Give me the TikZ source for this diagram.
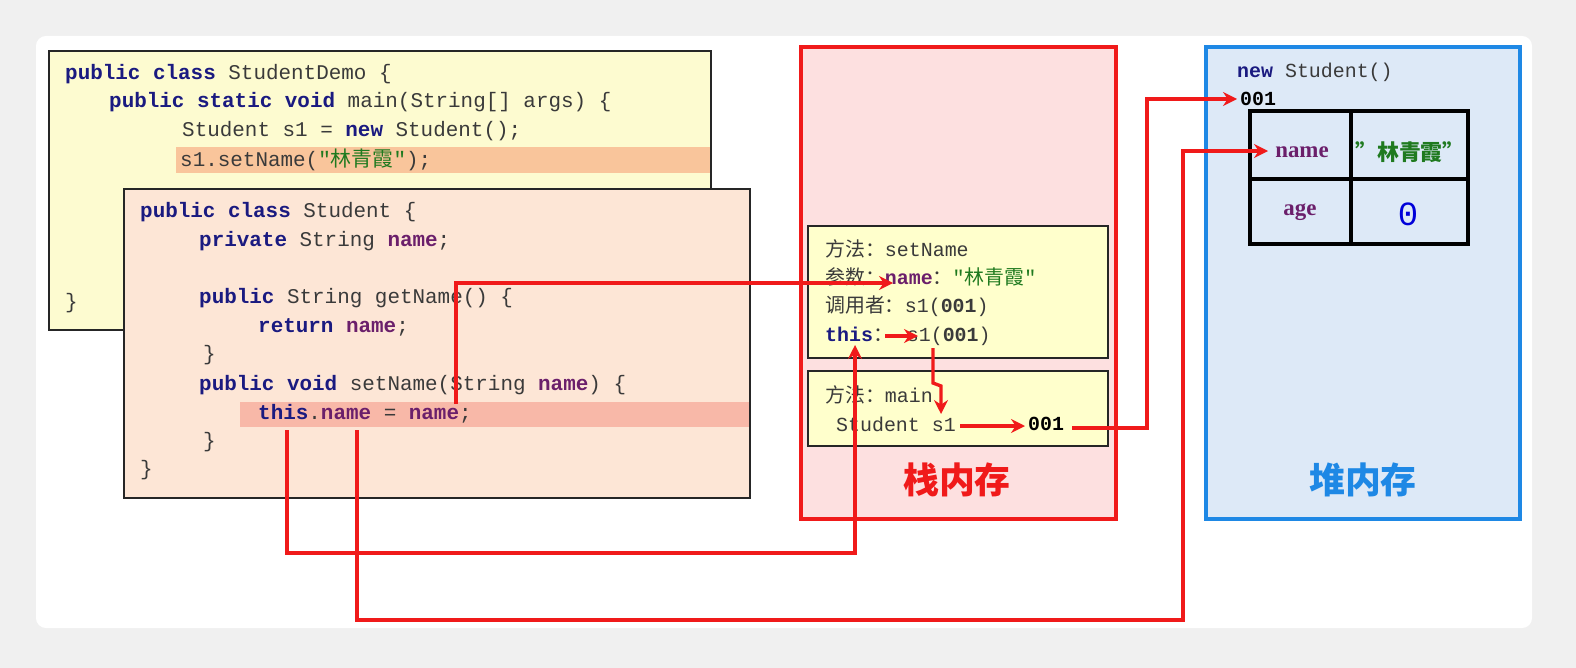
\documentclass[tikz,border=0pt]{standalone}
\usepackage{fontspec}
\setmonofont{Liberation Mono}
\newfontfamily\cjk{Noto Sans CJK SC}
\newfontfamily\lser{Liberation Serif}
\usetikzlibrary{arrows.meta}
\definecolor{kwc}{HTML}{1A1A80}
\definecolor{nmc}{HTML}{6B1F6B}
\definecolor{stc}{HTML}{1F7A1F}
\definecolor{txc}{HTML}{3A3A3A}
\definecolor{arr}{HTML}{F01A1A}
\definecolor{ylw}{RGB}{253,251,208}
\definecolor{hl1}{RGB}{249,197,155}
\definecolor{peach}{RGB}{253,230,214}
\definecolor{hl2}{RGB}{248,184,168}
\definecolor{stkbg}{RGB}{253,224,224}
\definecolor{frm}{RGB}{255,255,204}
\definecolor{hblue}{RGB}{30,136,229}
\definecolor{hbg}{RGB}{221,233,247}
\newcommand{\kw}[1]{\textbf{\color{kwc}#1}}
\newcommand{\nm}[1]{\textbf{\color{nmc}#1}}
\newcommand{\st}[1]{{\color{stc}#1}}
\begin{document}
\begin{tikzpicture}[x=1bp,y=-1bp,
 code/.style={anchor=west,inner sep=0,font=\ttfamily\fontsize{21}{21}\selectfont,text=txc},
 stk/.style={anchor=west,inner sep=0,font=\ttfamily\fontsize{20}{20}\selectfont,text=txc},
 ra/.style={draw=arr,line width=3.4pt,-{Stealth[length=14pt,width=14pt]}},
 frame/.style={draw=black!85,line width=2.4pt}]
\useasboundingbox (0,0) rectangle (1576,668);
\fill[gray!12] (0,0) rectangle (1576,668);
\fill[white,rounded corners=10pt] (36,36) rectangle (1532,628);
% demo box
\draw[frame,fill=ylw] (49,51) rectangle (711,330);
\fill[hl1] (176,147) rectangle (710,173);
\node[code] (d1) at (65,74) {\kw{public class} StudentDemo \{};
\node[code] (d2) at (109,102) {\kw{public static void} main(String[] args) \{};
\node[code] (d3) at (182,131) {Student s1 = \kw{new} Student();};
\node[code] (d4) at (180,160) {s1.setName(\st{"{\cjk 林青霞}"});};
\node[code] (d5) at (65,303) {\}};
% student box
\draw[frame,fill=peach] (124,189) rectangle (750,498);
\fill[hl2] (240,402) rectangle (749,427);
\node[code] (s1) at (140,212) {\kw{public class} Student \{};
\node[code] (s2) at (199,241) {\kw{private} String \nm{name};};
\node[code] (s3) at (199,298) {\kw{public} String getName() \{};
\node[code] (s4) at (258,327) {\kw{return} \nm{name};};
\node[code] (s5) at (203,355) {\}};
\node[code] (s6) at (199,385) {\kw{public void} setName(String \nm{name}) \{};
\node[code] (s7) at (258,414) {\kw{this}.\nm{name} = \nm{name};};
\node[code] (s8) at (203,442) {\}};
\node[code] (s9) at (140,470) {\}};
% stack
\draw[draw=arr,line width=4.5pt,fill=stkbg] (801,47) rectangle (1116,519);
\draw[frame,fill=frm] (808,226) rectangle (1108,358);
\draw[frame,fill=frm] (808,371) rectangle (1108,446);
\node[stk] (m1) at (825,249) {{\cjk 方法：}setName};
\node[stk] (m2) at (825,277) {{\cjk 参数：}\nm{name}{\cjk ：}\st{"{\cjk 林青霞}"}};
\node[stk] (m3) at (825,306) {{\cjk 调用者：}s1(\textbf{001})};
\node[stk] (m4) at (825,336) {\kw{this}{\cjk ：}\hspace{14pt}s1(\textbf{001})};
\node[stk] (m5) at (825,395) {{\cjk 方法：}main};
\node[stk] (m6) at (836,424) {Student s1};
\node[stk] (m7) at (1028,424) {\textbf{\color{black}001}};
\node[font=\cjk\bfseries\fontsize{36}{36}\selectfont,text=arr] (stack) at (957,480) {栈内存};
% heap
\draw[draw=hblue,line width=4.5pt,fill=hbg] (1206,47) rectangle (1520,519);
\node[stk] (h0) at (1237,72) {\kw{new} Student()};
\node[stk] (h1) at (1240,99) {\textbf{\color{black}001}};
\draw[line width=4.5pt] (1250,111) rectangle (1468,244) (1351,111)--(1351,244) (1250,179)--(1468,179);
\node[font=\lser\bfseries\fontsize{23}{23}\selectfont,text=nmc] (hn) at (1302,152) {name};
\node[font=\cjk\bfseries\fontsize{22}{22}\selectfont,text=stc] (hv) at (1410,152) {”林青霞”};
\node[font=\lser\bfseries\fontsize{23}{23}\selectfont,text=nmc] (ha) at (1300,212) {age};
\node[font=\ttfamily\fontsize{34}{34}\selectfont,text=blue!85!black] (h0v) at (1408,214) {0};
\node[font=\cjk\bfseries\fontsize{36}{36}\selectfont,text=hblue] (heap) at (1363,480) {堆内存};
% arrows
\coordinate (a1) at (456,404);
\draw[ra] (a1) |- (893,283);
\draw[ra] (287,430) -- (287,553) -| (855,345);
\draw[ra] (357,430) -- (357,620) -| (1183,151) -- (1268,151);
\draw[ra] (885,336) -- (918,336);
\draw[ra] (933,348) -- (933,383) -- (941,386) -- (941,414);
\draw[ra] (960,426) -- (1025,426);
\draw[ra] (1072,428) -| (1147,99) -- (1237,99);
\end{tikzpicture}
\end{document}
